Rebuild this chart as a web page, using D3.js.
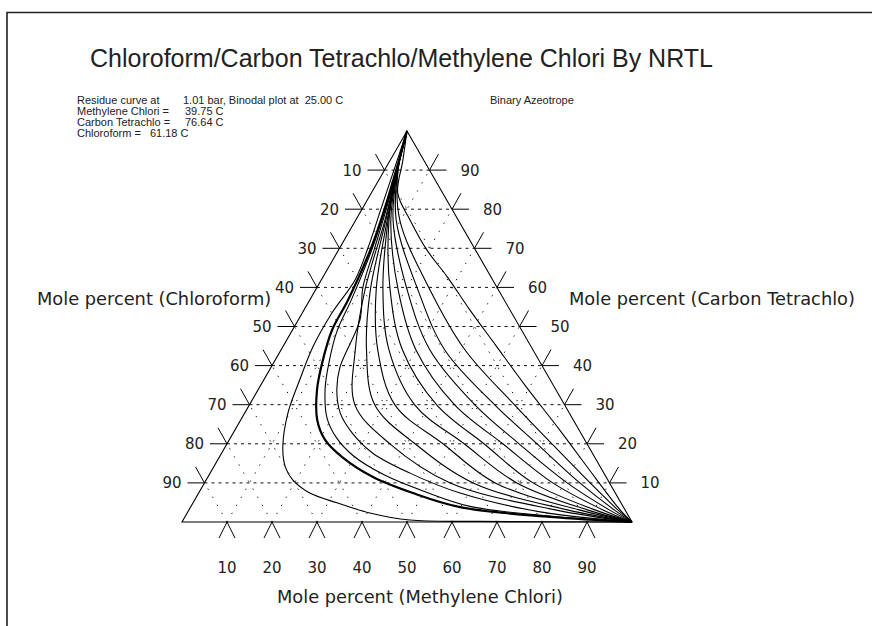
<!DOCTYPE html>
<html>
<head>
<meta charset="utf-8">
<script src="https://cdn.jsdelivr.net/npm/d3@7"></script>
<style>
  body { margin: 0; background: #fff; }
  svg { display: block; }
  .tick { font-family: "DejaVu Sans", sans-serif; font-size: 15px; fill: #222; }
  .axisLabel { font-family: "DejaVu Sans", sans-serif; font-size: 17.8px; fill: #222; }
  .info { font-family: "Liberation Sans", Arial, sans-serif; font-size: 11px; fill: #222; }
</style>
</head>
<body>
<div class="chart"></div>
<script>
// ternary points are [methylene chloride %, carbon tetrachloride %]
var tickValues = [10, 20, 30, 40, 50, 60, 70, 80, 90];

var curveA = [[0,100],[2.1,90],[4.2,80],[6.3,70],[7.5,61.9],[6.6,53.5],[6.7,44.8],[8.0,36.3],[9.6,27.9],[12.8,19.2],[15.9,14.1],[19.3,10.7],[24.7,7.4],[32.0,4.9],[40.6,2.3],[50.4,0.5],[66,0.15],[100,0]];
var curveB = [[0,100],[2.6,90],[5.0,80],[7.0,70],[8.5,56.8],[8.8,49.1],[10.8,40.7],[13.1,33.8],[17.0,26.1],[21.3,21.0],[27.3,16.6],[36.7,11.5],[47.6,7.4],[59.9,3.8],[81.2,1.3],[100,0]];
var curveB2 = [[0,100],[2.7,90],[5.2,80],[7.3,70],[9.2,57],[10.0,49],[12.2,41],[14.8,34],[19.0,26.5],[23.6,21.5],[29.5,17],[39,12],[50,7.8],[62,4],[82,1.4],[100,0]];
var curveC = [[0,100],[2.8,90],[5.4,80],[7.8,70],[10.2,60],[13.7,51.7],[15.3,39.6],[17.5,33.8],[21.2,27.9],[26.4,22.8],[33.6,17.6],[44.4,12.5],[58.1,7.4],[78.3,2.6],[100,0]];
var curveD1 = [[0,100],[2.8,90],[6.5,77.2],[11.0,59.3],[16.5,44],[23.5,29.9],[36.2,20],[54.6,10],[81.4,3.1],[100,0]];
var curveD2 = [[0,100],[2.8,90],[6.7,77.2],[12.2,59.3],[19.0,44],[27.9,29.9],[41.8,20],[59.7,10],[84.1,3.1],[100,0]];
var curveD3 = [[0,100],[2.8,90],[7.0,77.2],[13.5,59.3],[21.5,44],[32.4,29.9],[48,20],[64.6,10],[86.7,3.1],[100,0]];
var curveD4 = [[0,100],[2.8,90],[7.2,77.2],[15.0,59.3],[24.0,44],[36.8,29.9],[52.7,20],[69.4,10],[88.5,3.1],[100,0]];
var curveD5 = [[0,100],[2.8,90],[7.4,77.2],[16.6,59.3],[27.0,44],[41.7,29.9],[57.1,20],[73,10],[90.2,3.1],[100,0]];
var curveD6 = [[0,100],[2.9,90],[7.8,77.2],[18.4,59.3],[30.0,44],[45.7,29.9],[61.3,20],[77.4,10],[92.0,3.1],[100,0]];
var curveD7 = [[0,100],[2.9,90],[8.3,77.2],[20.4,59.3],[33.1,44],[50.2,29.9],[64.9,20],[80.6,10],[93.4,3.1],[100,0]];
var curveD8 = [[0,100],[3.0,90],[9.0,77.2],[22.8,59.3],[36.4,44],[54.6,29.9],[68.9,20],[83.4,10],[94.5,3.1],[100,0]];
var curveD9 = [[0,100],[3.0,90],[9.8,77.2],[25.5,59.3],[40.9,44],[59.0,29.9],[72.2,20],[85.7,10],[95.3,3.1],[100,0]];
var curveI = [[0,100],[2.9,92.3],[5.9,84.1],[12.1,77.2],[19.6,69.6],[27.6,62.7],[36.9,54.2],[47.0,45.3],[58.7,35.0],[72.2,23.5],[86.2,11.3],[95.8,3.1],[100,0]];

var thinCurves = [curveA, curveB2, curveC, curveD1, curveD2, curveD3, curveD4, curveD5, curveD6, curveD7, curveD8, curveD9, curveI];
var thickCurves = [curveB];

var width = 872, height = 626;

var svg = d3.select('.chart')
  .append('svg')
  .attr('width', width)
  .attr('height', height);

// frame
svg.append('path')
  .attr('d', 'M7,626 V12.5 H872')
  .attr('fill', 'none')
  .attr('stroke', '#222')
  .attr('stroke-width', 1.6);

// x runs along (methylene + ccl4/2), y along ccl4
var xScale = d3.scaleLinear().domain([0, 100]).range([182, 632]);
var yScale = d3.scaleLinear().domain([0, 100]).range([522, 131]);

function px(d) { return xScale(d[0] + d[1] / 2); }
function py(d) { return yScale(d[1]); }

var g = svg.append('g');

// grid: horizontal (const CCl4)
g.selectAll('.hgrid')
  .data(tickValues)
  .enter()
  .append('line')
  .attr('class', 'hgrid')
  .attr('x1', function(t) { return px([0, t]); })
  .attr('x2', function(t) { return px([100 - t, t]); })
  .attr('y1', function(t) { return yScale(t); })
  .attr('y2', function(t) { return yScale(t); })
  .attr('stroke', '#111')
  .attr('stroke-dasharray', '3,4');

// grid: constant methylene
g.selectAll('.mgrid')
  .data(tickValues)
  .enter()
  .append('line')
  .attr('x1', function(m) { return px([m, 0]); })
  .attr('y1', function(m) { return py([m, 0]); })
  .attr('x2', function(m) { return px([m, 100 - m]); })
  .attr('y2', function(m) { return py([m, 100 - m]); })
  .attr('stroke', '#111')
  .attr('stroke-dasharray', '1.3,8');

// grid: constant chloroform
g.selectAll('.cgrid')
  .data(tickValues)
  .enter()
  .append('line')
  .attr('x1', function(c) { return px([100 - c, 0]); })
  .attr('y1', function(c) { return py([100 - c, 0]); })
  .attr('x2', function(c) { return px([0, 100 - c]); })
  .attr('y2', function(c) { return py([0, 100 - c]); })
  .attr('stroke', '#111')
  .attr('stroke-dasharray', '1.3,8');

// triangle
var corners = [[0, 0], [100, 0], [0, 100]];
g.append('path')
  .attr('d', 'M' + corners.map(function(d) { return px(d) + ',' + py(d); }).join('L') + 'Z')
  .attr('fill', 'none')
  .attr('stroke', '#000')
  .attr('stroke-width', 1.1);

// residue curves
var line = d3.line().x(px).y(py).curve(d3.curveCatmullRom.alpha(0.5));

g.selectAll('.curve')
  .data(thinCurves)
  .enter()
  .append('path')
  .attr('class', 'curve')
  .attr('d', line)
  .attr('fill', 'none')
  .attr('stroke', '#000')
  .attr('stroke-width', 1.1);

g.selectAll('.thick')
  .data(thickCurves)
  .enter()
  .append('path')
  .attr('d', line)
  .attr('fill', 'none')
  .attr('stroke', '#000')
  .attr('stroke-width', 2.2);

// tick marks
var tl = 17;
tickValues.forEach(function(k) {
  // bottom (methylene)
  var bx = px([k, 0]), by = py([k, 0]);
  g.append('path')
    .attr('d', 'M' + (bx - 8) + ',' + (by + 16) + 'L' + bx + ',' + by + 'L' + (bx + 8) + ',' + (by + 16))
    .attr('fill', 'none').attr('stroke', '#000');
  g.append('text').attr('class', 'tick')
    .attr('x', bx).attr('y', by + 51)
    .attr('text-anchor', 'middle')
    .text(k);

  // left (chloroform): label k sits at ccl4 = 100 - k
  var lx = px([0, 100 - k]), ly = py([0, 100 - k]);
  g.append('path')
    .attr('d', 'M' + (lx - tl) + ',' + ly + 'L' + lx + ',' + ly + 'L' + (lx - 9) + ',' + (ly - 16))
    .attr('fill', 'none').attr('stroke', '#000');
  g.append('text').attr('class', 'tick')
    .attr('x', lx - 23).attr('y', ly + 5.5)
    .attr('text-anchor', 'end')
    .text(k);

  // right (carbon tetrachloride)
  var rx = px([100 - k, k]), ry = py([100 - k, k]);
  g.append('path')
    .attr('d', 'M' + (rx + tl) + ',' + ry + 'L' + rx + ',' + ry + 'L' + (rx + 9) + ',' + (ry - 16))
    .attr('fill', 'none').attr('stroke', '#000');
  g.append('text').attr('class', 'tick')
    .attr('x', rx + 31).attr('y', ry + 5.5)
    .attr('text-anchor', 'start')
    .text(k);
});

// axis labels
svg.append('text').attr('class', 'axisLabel')
  .attr('x', 37).attr('y', 305)
  .text('Mole percent (Chloroform)');
svg.append('text').attr('class', 'axisLabel')
  .attr('x', 569).attr('y', 305)
  .text('Mole percent (Carbon Tetrachlo)');
svg.append('text').attr('class', 'axisLabel')
  .attr('x', 277).attr('y', 603)
  .text('Mole percent (Methylene Chlori)');

// title
svg.append('text')
  .attr('x', 90).attr('y', 67)
  .attr('font-family', '"Liberation Sans", Arial, sans-serif')
  .attr('font-size', 25)
  .attr('fill', '#222')
  .text('Chloroform/Carbon Tetrachlo/Methylene Chlori By NRTL');

// info block
var infoLabels = ['Residue curve at', 'Methylene Chlori =', 'Carbon Tetrachlo =', 'Chloroform ='];
var infoValues = ['1.01 bar, Binodal plot at  25.00 C', '39.75 C', '76.64 C', '61.18 C'];
var infoY = [104, 115, 126, 137];

infoLabels.forEach(function(lab, i) {
  var t = svg.append('text').attr('class', 'info')
    .attr('x', 77).attr('y', infoY[i])
    .text(lab);
  var vx = i === 3 ? 77 + t.node().getComputedTextLength() + 9 : (i === 0 ? 183 : 185);
  svg.append('text').attr('class', 'info')
    .attr('x', vx).attr('y', infoY[i])
    .attr('xml:space', 'preserve')
    .style('white-space', 'pre')
    .text(infoValues[i]);
});

svg.append('text').attr('class', 'info')
  .attr('x', 490).attr('y', 104)
  .text('Binary Azeotrope');
</script>
</body>
</html>
